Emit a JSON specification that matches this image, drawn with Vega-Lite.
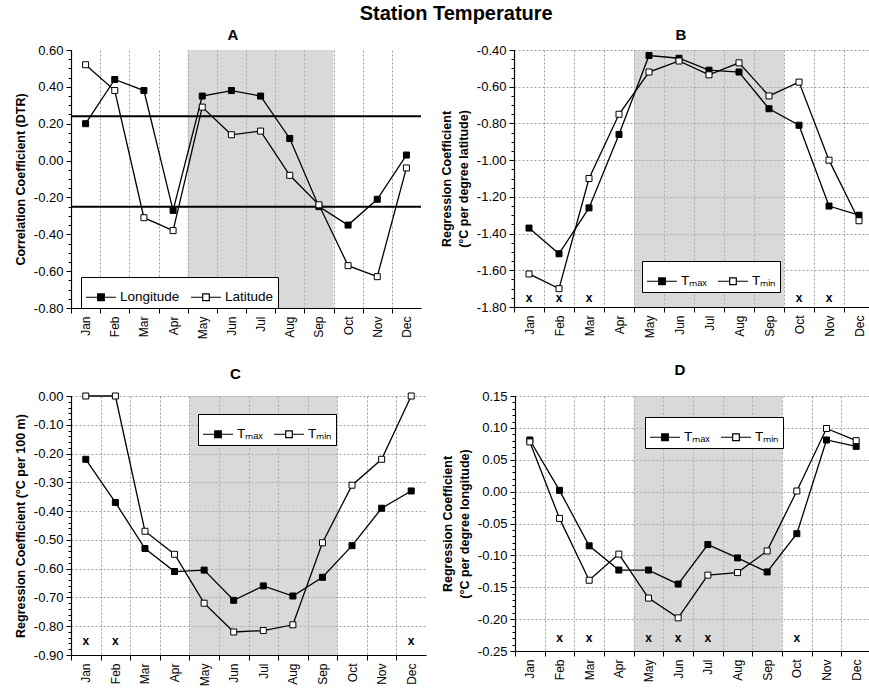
{
  "$schema": "https://vega.github.io/schema/vega-lite/v6.json",
  "padding": {"left": 14, "top": 4, "right": 0, "bottom": 0},
  "title": {"text": "Station Temperature", "fontSize": 20, "fontWeight": "bold", "anchor": "middle", "dx": 12, "offset": 4, "font": "Liberation Sans"},
  "datasets": {
    "shade": [{"m": 4.5, "m2": 9.5}],
    "refA": [{"r": 0.24}, {"r": -0.25}],
    "a": [
      {"month": "Jan", "m": 1, "series": "Longitude", "v": 0.20},
      {"month": "Feb", "m": 2, "series": "Longitude", "v": 0.44},
      {"month": "Mar", "m": 3, "series": "Longitude", "v": 0.38},
      {"month": "Apr", "m": 4, "series": "Longitude", "v": -0.27},
      {"month": "May", "m": 5, "series": "Longitude", "v": 0.35},
      {"month": "Jun", "m": 6, "series": "Longitude", "v": 0.38},
      {"month": "Jul", "m": 7, "series": "Longitude", "v": 0.35},
      {"month": "Aug", "m": 8, "series": "Longitude", "v": 0.12},
      {"month": "Sep", "m": 9, "series": "Longitude", "v": -0.25},
      {"month": "Oct", "m": 10, "series": "Longitude", "v": -0.35},
      {"month": "Nov", "m": 11, "series": "Longitude", "v": -0.21},
      {"month": "Dec", "m": 12, "series": "Longitude", "v": 0.03},
      {"month": "Jan", "m": 1, "series": "Latitude", "v": 0.52},
      {"month": "Feb", "m": 2, "series": "Latitude", "v": 0.38},
      {"month": "Mar", "m": 3, "series": "Latitude", "v": -0.31},
      {"month": "Apr", "m": 4, "series": "Latitude", "v": -0.38},
      {"month": "May", "m": 5, "series": "Latitude", "v": 0.29},
      {"month": "Jun", "m": 6, "series": "Latitude", "v": 0.14},
      {"month": "Jul", "m": 7, "series": "Latitude", "v": 0.16},
      {"month": "Aug", "m": 8, "series": "Latitude", "v": -0.08},
      {"month": "Sep", "m": 9, "series": "Latitude", "v": -0.24},
      {"month": "Oct", "m": 10, "series": "Latitude", "v": -0.57},
      {"month": "Nov", "m": 11, "series": "Latitude", "v": -0.63},
      {"month": "Dec", "m": 12, "series": "Latitude", "v": -0.04}
    ],
    "b": [
      {"month": "Jan", "m": 1, "series": "Tmax", "v": -1.37},
      {"month": "Feb", "m": 2, "series": "Tmax", "v": -1.51},
      {"month": "Mar", "m": 3, "series": "Tmax", "v": -1.26},
      {"month": "Apr", "m": 4, "series": "Tmax", "v": -0.86},
      {"month": "May", "m": 5, "series": "Tmax", "v": -0.43},
      {"month": "Jun", "m": 6, "series": "Tmax", "v": -0.445},
      {"month": "Jul", "m": 7, "series": "Tmax", "v": -0.51},
      {"month": "Aug", "m": 8, "series": "Tmax", "v": -0.52},
      {"month": "Sep", "m": 9, "series": "Tmax", "v": -0.72},
      {"month": "Oct", "m": 10, "series": "Tmax", "v": -0.81},
      {"month": "Nov", "m": 11, "series": "Tmax", "v": -1.25},
      {"month": "Dec", "m": 12, "series": "Tmax", "v": -1.30},
      {"month": "Jan", "m": 1, "series": "Tmin", "v": -1.62},
      {"month": "Feb", "m": 2, "series": "Tmin", "v": -1.70},
      {"month": "Mar", "m": 3, "series": "Tmin", "v": -1.10},
      {"month": "Apr", "m": 4, "series": "Tmin", "v": -0.75},
      {"month": "May", "m": 5, "series": "Tmin", "v": -0.52},
      {"month": "Jun", "m": 6, "series": "Tmin", "v": -0.46},
      {"month": "Jul", "m": 7, "series": "Tmin", "v": -0.535},
      {"month": "Aug", "m": 8, "series": "Tmin", "v": -0.47},
      {"month": "Sep", "m": 9, "series": "Tmin", "v": -0.65},
      {"month": "Oct", "m": 10, "series": "Tmin", "v": -0.575},
      {"month": "Nov", "m": 11, "series": "Tmin", "v": -1.00},
      {"month": "Dec", "m": 12, "series": "Tmin", "v": -1.33}
    ],
    "c": [
      {"month": "Jan", "m": 1, "series": "Tmax", "v": -0.22},
      {"month": "Feb", "m": 2, "series": "Tmax", "v": -0.37},
      {"month": "Mar", "m": 3, "series": "Tmax", "v": -0.53},
      {"month": "Apr", "m": 4, "series": "Tmax", "v": -0.61},
      {"month": "May", "m": 5, "series": "Tmax", "v": -0.605},
      {"month": "Jun", "m": 6, "series": "Tmax", "v": -0.71},
      {"month": "Jul", "m": 7, "series": "Tmax", "v": -0.66},
      {"month": "Aug", "m": 8, "series": "Tmax", "v": -0.695},
      {"month": "Sep", "m": 9, "series": "Tmax", "v": -0.63},
      {"month": "Oct", "m": 10, "series": "Tmax", "v": -0.52},
      {"month": "Nov", "m": 11, "series": "Tmax", "v": -0.39},
      {"month": "Dec", "m": 12, "series": "Tmax", "v": -0.33},
      {"month": "Jan", "m": 1, "series": "Tmin", "v": 0.0},
      {"month": "Feb", "m": 2, "series": "Tmin", "v": 0.0},
      {"month": "Mar", "m": 3, "series": "Tmin", "v": -0.47},
      {"month": "Apr", "m": 4, "series": "Tmin", "v": -0.55},
      {"month": "May", "m": 5, "series": "Tmin", "v": -0.72},
      {"month": "Jun", "m": 6, "series": "Tmin", "v": -0.82},
      {"month": "Jul", "m": 7, "series": "Tmin", "v": -0.815},
      {"month": "Aug", "m": 8, "series": "Tmin", "v": -0.795},
      {"month": "Sep", "m": 9, "series": "Tmin", "v": -0.51},
      {"month": "Oct", "m": 10, "series": "Tmin", "v": -0.31},
      {"month": "Nov", "m": 11, "series": "Tmin", "v": -0.22},
      {"month": "Dec", "m": 12, "series": "Tmin", "v": 0.0}
    ],
    "d": [
      {"month": "Jan", "m": 1, "series": "Tmax", "v": 0.081},
      {"month": "Feb", "m": 2, "series": "Tmax", "v": 0.002},
      {"month": "Mar", "m": 3, "series": "Tmax", "v": -0.085},
      {"month": "Apr", "m": 4, "series": "Tmax", "v": -0.123},
      {"month": "May", "m": 5, "series": "Tmax", "v": -0.123},
      {"month": "Jun", "m": 6, "series": "Tmax", "v": -0.145},
      {"month": "Jul", "m": 7, "series": "Tmax", "v": -0.083},
      {"month": "Aug", "m": 8, "series": "Tmax", "v": -0.104},
      {"month": "Sep", "m": 9, "series": "Tmax", "v": -0.126},
      {"month": "Oct", "m": 10, "series": "Tmax", "v": -0.066},
      {"month": "Nov", "m": 11, "series": "Tmax", "v": 0.081},
      {"month": "Dec", "m": 12, "series": "Tmax", "v": 0.071},
      {"month": "Jan", "m": 1, "series": "Tmin", "v": 0.078},
      {"month": "Feb", "m": 2, "series": "Tmin", "v": -0.042},
      {"month": "Mar", "m": 3, "series": "Tmin", "v": -0.139},
      {"month": "Apr", "m": 4, "series": "Tmin", "v": -0.098},
      {"month": "May", "m": 5, "series": "Tmin", "v": -0.167},
      {"month": "Jun", "m": 6, "series": "Tmin", "v": -0.198},
      {"month": "Jul", "m": 7, "series": "Tmin", "v": -0.131},
      {"month": "Aug", "m": 8, "series": "Tmin", "v": -0.127},
      {"month": "Sep", "m": 9, "series": "Tmin", "v": -0.093},
      {"month": "Oct", "m": 10, "series": "Tmin", "v": 0.001},
      {"month": "Nov", "m": 11, "series": "Tmin", "v": 0.099},
      {"month": "Dec", "m": 12, "series": "Tmin", "v": 0.080}
    ],
    "xb": [{"m": 1, "v": -1.75}, {"m": 2, "v": -1.75}, {"m": 3, "v": -1.75}, {"m": 10, "v": -1.75}, {"m": 11, "v": -1.75}],
    "xc": [{"m": 1, "v": -0.85}, {"m": 2, "v": -0.85}, {"m": 12, "v": -0.85}],
    "xd": [{"m": 2, "v": -0.23}, {"m": 3, "v": -0.23}, {"m": 5, "v": -0.23}, {"m": 6, "v": -0.23}, {"m": 7, "v": -0.23}, {"m": 10, "v": -0.23}]
  },
  "vconcat": [
    {
      "hconcat": [
        {
          "title": {"text": "A", "fontSize": 15, "fontWeight": "bold", "frame": "group", "dx": -13, "offset": 1},
          "width": 350, "height": 258,
          "resolve": {"axis": {"y": "independent"}},
          "layer": [
            {"data": {"name": "shade"}, "mark": {"type": "rect", "fill": "#b4b4b4", "opacity": 0.5},
             "encoding": {"x": {"field": "m", "type": "quantitative", "scale": {"domain": [0.5, 12.5], "nice": false, "zero": false}, "axis": {"values": [1,2,3,4,5,6,7,8,9,10,11,12], "tickCount": 40, "labelOverlap": false, "labelExpr": "['Jan','Feb','Mar','Apr','May','Jun','Jul','Aug','Sep','Oct','Nov','Dec'][datum.value-1]", "labelAngle": -90, "tickOffset": -14.58, "labelOffset": 14.58, "title": null}}, "x2": {"field": "m2"}}},
            {"data": {"name": "refA"}, "mark": {"type": "rule", "color": "black", "strokeWidth": 2}, "encoding": {"y": {"field": "r", "type": "quantitative", "axis": null}}},
            {"data": {"name": "a"}, "mark": {"type": "line", "color": "black", "strokeWidth": 1.3},
             "encoding": {"x": {"field": "m", "type": "quantitative"}, "y": {"field": "v", "type": "quantitative", "scale": {"domain": [-0.8, 0.6], "nice": false}, "axis": {"orient": "left", "values": [-0.8,-0.6,-0.4,-0.2,0,0.2,0.4,0.6], "tickCount": 40, "labelOverlap": false, "format": ".2f", "title": "Correlation Coefficient (DTR)"}}, "detail": {"field": "series"}}},
            {"data": {"name": "a"}, "mark": {"type": "point", "shape": "square", "size": 36, "filled": true, "stroke": "black", "strokeWidth": 1, "opacity": 1},
             "encoding": {"x": {"field": "m", "type": "quantitative"}, "y": {"field": "v", "type": "quantitative", "axis": {"orient": "left", "values": [-0.8,-0.75,-0.7,-0.65,-0.6,-0.55,-0.5,-0.45,-0.4,-0.35,-0.3,-0.25,-0.2,-0.15,-0.1,-0.05,0,0.05,0.1,0.15,0.2,0.25,0.3,0.35,0.4,0.45,0.5,0.55,0.6], "tickCount": 80, "labels": false, "domain": false, "grid": false, "tickSize": 3, "title": null}},
               "fill": {"field": "series", "type": "nominal", "scale": {"domain": ["Longitude", "Latitude"], "range": ["black", "white"]}, "legend": {"legendX": 10, "legendY": 227}}}}
          ]
        },
        {
          "title": {"text": "B", "fontSize": 15, "fontWeight": "bold", "frame": "group", "dx": -13, "offset": 1},
          "width": 360, "height": 257,
          "resolve": {"axis": {"y": "independent"}},
          "layer": [
            {"data": {"name": "shade"}, "mark": {"type": "rect", "fill": "#b4b4b4", "opacity": 0.5},
             "encoding": {"x": {"field": "m", "type": "quantitative", "scale": {"domain": [0.5, 12.5], "nice": false, "zero": false}, "axis": {"values": [1,2,3,4,5,6,7,8,9,10,11,12], "tickCount": 40, "labelOverlap": false, "labelExpr": "['Jan','Feb','Mar','Apr','May','Jun','Jul','Aug','Sep','Oct','Nov','Dec'][datum.value-1]", "labelAngle": -90, "tickOffset": -15, "labelOffset": 15, "title": null}}, "x2": {"field": "m2"}}},
            {"data": {"name": "b"}, "mark": {"type": "line", "color": "black", "strokeWidth": 1.3},
             "encoding": {"x": {"field": "m", "type": "quantitative"}, "y": {"field": "v", "type": "quantitative", "scale": {"domain": [-1.8, -0.4], "nice": false, "zero": false}, "axis": {"orient": "left", "values": [-1.8,-1.6,-1.4,-1.2,-1.0,-0.8,-0.6,-0.4], "tickCount": 40, "labelOverlap": false, "format": ".2f", "title": ["Regression Coefficient", "(°C per degree latitude)"]}}, "detail": {"field": "series"}}},
            {"data": {"name": "b"}, "mark": {"type": "point", "shape": "square", "size": 36, "filled": true, "stroke": "black", "strokeWidth": 1, "opacity": 1},
             "encoding": {"x": {"field": "m", "type": "quantitative"}, "y": {"field": "v", "type": "quantitative", "axis": {"orient": "left", "values": [-1.8,-1.75,-1.7,-1.65,-1.6,-1.55,-1.5,-1.45,-1.4,-1.35,-1.3,-1.25,-1.2,-1.15,-1.1,-1.05,-1,-0.95,-0.9,-0.85,-0.8,-0.75,-0.7,-0.65,-0.6,-0.55,-0.5,-0.45,-0.4], "tickCount": 80, "labels": false, "domain": false, "grid": false, "tickSize": 3, "title": null}},
               "fill": {"field": "series", "type": "nominal", "scale": {"domain": ["Tmax", "Tmin"], "range": ["black", "white"]}, "legend": {"legendX": 128, "legendY": 211, "labelExpr": "datum.label == 'Tmax' ? 'Tₘₐₓ' : 'Tₘᵢₙ'"}}}},
            {"data": {"name": "xb"}, "mark": {"type": "text", "text": "x", "fontWeight": "bold", "fontSize": 12, "baseline": "middle"},
             "encoding": {"x": {"field": "m", "type": "quantitative"}, "y": {"field": "v", "type": "quantitative", "axis": null}}}
          ]
        }
      ],
      "spacing": 18,
      "resolve": {"scale": {"fill": "independent", "x": "independent", "y": "independent"}, "legend": {"fill": "independent"}}
    },
    {
      "hconcat": [
        {
          "title": {"text": "C", "fontSize": 15, "fontWeight": "bold", "frame": "group", "dx": -13, "offset": 8},
          "width": 355, "height": 259,
          "resolve": {"axis": {"y": "independent"}},
          "layer": [
            {"data": {"name": "shade"}, "mark": {"type": "rect", "fill": "#b4b4b4", "opacity": 0.5},
             "encoding": {"x": {"field": "m", "type": "quantitative", "scale": {"domain": [0.5, 12.5], "nice": false, "zero": false}, "axis": {"values": [1,2,3,4,5,6,7,8,9,10,11,12], "tickCount": 40, "labelOverlap": false, "labelExpr": "['Jan','Feb','Mar','Apr','May','Jun','Jul','Aug','Sep','Oct','Nov','Dec'][datum.value-1]", "labelAngle": -90, "tickOffset": -14.79, "labelOffset": 14.79, "title": null}}, "x2": {"field": "m2"}}},
            {"data": {"name": "c"}, "mark": {"type": "line", "color": "black", "strokeWidth": 1.3},
             "encoding": {"x": {"field": "m", "type": "quantitative"}, "y": {"field": "v", "type": "quantitative", "scale": {"domain": [-0.9, 0], "nice": false, "zero": false}, "axis": {"orient": "left", "values": [-0.9,-0.8,-0.7,-0.6,-0.5,-0.4,-0.3,-0.2,-0.1,0], "tickCount": 40, "labelOverlap": false, "format": ".2f", "title": "Regression Coefficient (°C per 100 m)"}}, "detail": {"field": "series"}}},
            {"data": {"name": "c"}, "mark": {"type": "point", "shape": "square", "size": 36, "filled": true, "stroke": "black", "strokeWidth": 1, "opacity": 1},
             "encoding": {"x": {"field": "m", "type": "quantitative"}, "y": {"field": "v", "type": "quantitative", "axis": {"orient": "left", "values": [-0.9,-0.88,-0.86,-0.84,-0.82,-0.8,-0.78,-0.76,-0.74,-0.72,-0.7,-0.68,-0.66,-0.64,-0.62,-0.6,-0.58,-0.56,-0.54,-0.52,-0.5,-0.48,-0.46,-0.44,-0.42,-0.4,-0.38,-0.36,-0.34,-0.32,-0.3,-0.28,-0.26,-0.24,-0.22,-0.2,-0.18,-0.16,-0.14,-0.12,-0.1,-0.08,-0.06,-0.04,-0.02,0], "tickCount": 80, "labels": false, "domain": false, "grid": false, "tickSize": 3, "title": null}},
               "fill": {"field": "series", "type": "nominal", "scale": {"domain": ["Tmax", "Tmin"], "range": ["black", "white"]}, "legend": {"legendX": 127, "legendY": 18, "labelExpr": "datum.label == 'Tmax' ? 'Tₘₐₓ' : 'Tₘᵢₙ'"}}}},
            {"data": {"name": "xc"}, "mark": {"type": "text", "text": "x", "fontWeight": "bold", "fontSize": 12, "baseline": "middle"},
             "encoding": {"x": {"field": "m", "type": "quantitative"}, "y": {"field": "v", "type": "quantitative", "axis": null}}}
          ]
        },
        {
          "title": {"text": "D", "fontSize": 15, "fontWeight": "bold", "frame": "group", "dx": -13, "offset": 12},
          "width": 356, "height": 255,
          "resolve": {"axis": {"y": "independent"}},
          "layer": [
            {"data": {"name": "shade"}, "mark": {"type": "rect", "fill": "#b4b4b4", "opacity": 0.5},
             "encoding": {"x": {"field": "m", "type": "quantitative", "scale": {"domain": [0.5, 12.5], "nice": false, "zero": false}, "axis": {"values": [1,2,3,4,5,6,7,8,9,10,11,12], "tickCount": 40, "labelOverlap": false, "labelExpr": "['Jan','Feb','Mar','Apr','May','Jun','Jul','Aug','Sep','Oct','Nov','Dec'][datum.value-1]", "labelAngle": -90, "tickOffset": -14.83, "labelOffset": 14.83, "title": null}}, "x2": {"field": "m2"}}},
            {"data": {"name": "d"}, "mark": {"type": "line", "color": "black", "strokeWidth": 1.3},
             "encoding": {"x": {"field": "m", "type": "quantitative"}, "y": {"field": "v", "type": "quantitative", "scale": {"domain": [-0.25, 0.15], "nice": false, "zero": false}, "axis": {"orient": "left", "values": [-0.25,-0.2,-0.15,-0.1,-0.05,0,0.05,0.1,0.15], "tickCount": 40, "labelOverlap": false, "format": ".2f", "title": ["Regression Coefficient", "(°C per degree longitude)"]}}, "detail": {"field": "series"}}},
            {"data": {"name": "d"}, "mark": {"type": "point", "shape": "square", "size": 36, "filled": true, "stroke": "black", "strokeWidth": 1, "opacity": 1},
             "encoding": {"x": {"field": "m", "type": "quantitative"}, "y": {"field": "v", "type": "quantitative", "axis": {"orient": "left", "values": [-0.25,-0.24,-0.23,-0.22,-0.21,-0.2,-0.19,-0.18,-0.17,-0.16,-0.15,-0.14,-0.13,-0.12,-0.11,-0.1,-0.09,-0.08,-0.07,-0.06,-0.05,-0.04,-0.03,-0.02,-0.01,0,0.01,0.02,0.03,0.04,0.05,0.06,0.07,0.08,0.09,0.1,0.11,0.12,0.13,0.14,0.15], "tickCount": 80, "labels": false, "domain": false, "grid": false, "tickSize": 3, "title": null}},
               "fill": {"field": "series", "type": "nominal", "scale": {"domain": ["Tmax", "Tmin"], "range": ["black", "white"]}, "legend": {"legendX": 130, "legendY": 21, "labelExpr": "datum.label == 'Tmax' ? 'Tₘₐₓ' : 'Tₘᵢₙ'"}}}},
            {"data": {"name": "xd"}, "mark": {"type": "text", "text": "x", "fontWeight": "bold", "fontSize": 12, "baseline": "middle"},
             "encoding": {"x": {"field": "m", "type": "quantitative"}, "y": {"field": "v", "type": "quantitative", "axis": null}}}
          ]
        }
      ],
      "spacing": 15,
      "resolve": {"scale": {"fill": "independent", "x": "independent", "y": "independent"}, "legend": {"fill": "independent"}}
    }
  ],
  "spacing": 24,
  "resolve": {"scale": {"fill": "independent", "x": "independent", "y": "independent"}, "legend": {"fill": "independent"}},
  "config": {
    "font": "Liberation Sans",
    "view": {"stroke": null},
    "locale": {"number": {"decimal": ".", "thousands": ",", "grouping": [3], "currency": ["$", ""], "minus": "-"}},
    "axis": {"labelFont": "Liberation Sans", "labelFontSize": 13, "labelColor": "black", "labelOverlap": false, "labelFlush": false, "labelBound": false, "titleFont": "Liberation Sans", "titleFontSize": 12.5, "titleFontWeight": "bold", "titleColor": "black", "titleLineHeight": 17, "titlePadding": 6, "domainColor": "black", "domainWidth": 1.2, "tickColor": "black", "tickSize": 5, "labelPadding": 3, "gridColor": "#888", "gridDash": [2, 2], "gridWidth": 0.8},
    "axisX": {"labelFontSize": 12, "labelPadding": 3},
    "legend": {"orient": "none", "direction": "horizontal", "title": null, "strokeColor": "black", "fillColor": "white", "padding": 4, "symbolType": "M-1,0H-0.22M0.22,0H1M-0.22,-0.22H0.22V0.22H-0.22Z", "symbolSize": 900, "symbolStrokeColor": "black", "symbolStrokeWidth": 1.2, "symbolOpacity": 1, "labelFont": "Liberation Sans", "labelFontSize": 13.5, "labelColor": "black", "columnPadding": 8, "labelOffset": 3}
  }
}
